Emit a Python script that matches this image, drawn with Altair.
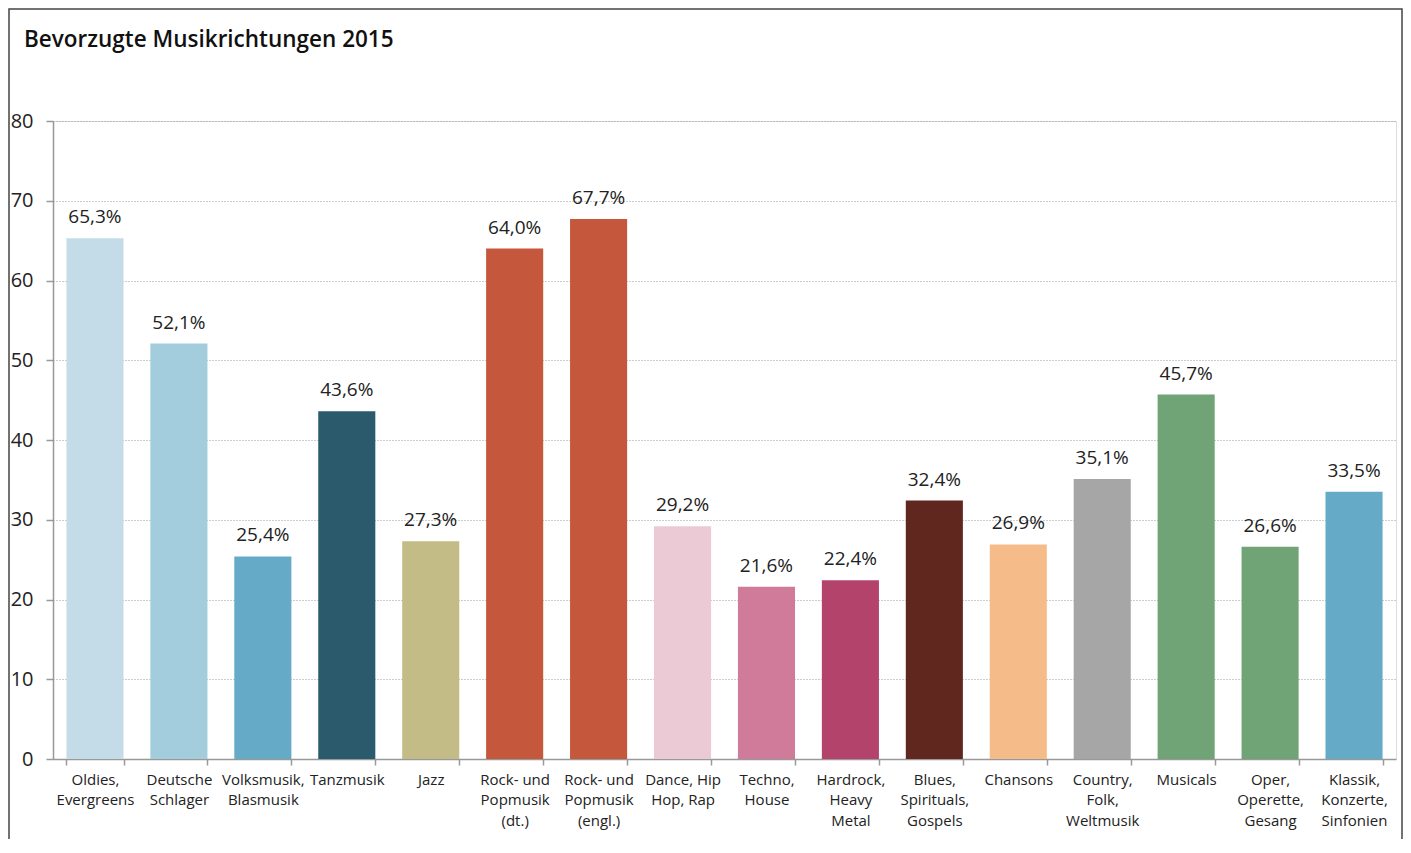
import altair as alt
import pandas as pd

categories = [
    "Oldies,|Evergreens", "Deutsche|Schlager", "Volksmusik,|Blasmusik", "Tanzmusik",
    "Jazz", "Rock- und|Popmusik|(dt.)", "Rock- und|Popmusik|(engl.)", "Dance, Hip|Hop, Rap",
    "Techno,|House", "Hardrock,|Heavy|Metal", "Blues,|Spirituals,|Gospels", "Chansons",
    "Country,|Folk,|Weltmusik", "Musicals", "Oper,|Operette,|Gesang", "Klassik,|Konzerte,|Sinfonien",
]
values = [65.3, 52.1, 25.4, 43.6, 27.3, 64.0, 67.7, 29.2, 21.6, 22.4, 32.4, 26.9, 35.1, 45.7, 26.6, 33.5]
colors = [
    "#c3dce8", "#a3cddd", "#65abc7", "#2a5a6b", "#c4bc86", "#c4573c", "#c4573c", "#ebcad6",
    "#d07b9a", "#b4436c", "#60271f", "#f5bc8a", "#a6a6a6", "#70a476", "#70a476", "#65abc7",
]

df = pd.DataFrame({"cat": categories, "val": values, "color": colors})
df["label"] = df["val"].map(lambda v: f"{v:.1f}".replace(".", ",") + "%")

FONT = "Open Sans"
W, H = 1343, 638

x_enc = alt.X(
    "cat:N", sort=None, title=None,
    scale=alt.Scale(paddingInner=0.32, paddingOuter=0.16),
    axis=alt.Axis(
        labelAngle=0, labelExpr="split(datum.label, '|')", labelFontSize=15,
        labelLineHeight=20.5, labelFont=FONT, labelColor="#222", labelPadding=7,
        tickBand="extent", tickSize=6, tickColor="#999", domainColor="#999",
        domainWidth=1.5, tickWidth=1.5, labelBaseline="top",
    ),
)
y_enc = alt.Y(
    "val:Q", title=None,
    scale=alt.Scale(domain=[0, 80], nice=False),
    axis=alt.Axis(
        values=list(range(0, 90, 10)), labelFontSize=20, labelFont=FONT, labelColor="#222",
        tickSize=7, tickColor="#999", domainColor="#999", domainWidth=1.5, tickWidth=1.5,
        labelPadding=13, grid=True, gridColor="#999", gridDash=[1, 2], gridWidth=1,
    ),
)

bars = alt.Chart(df).mark_bar().encode(
    x=x_enc, y=y_enc, color=alt.Color("color:N", scale=None)
)
labels = alt.Chart(df).mark_text(
    baseline="bottom", dy=-11, fontSize=19, font=FONT, color="#222"
).encode(x=alt.X("cat:N", sort=None), y="val:Q", text="label:N")

frame = alt.Chart(pd.DataFrame({"a": [0]})).mark_rect(
    fill=None, stroke="#444", strokeWidth=1.5
).encode(
    x=alt.value(-44), x2=alt.value(1349), y=alt.value(-112), y2=alt.value(900)
)

chart = alt.layer(frame, bars, labels).properties(
    width=W, height=H,
    title=alt.TitleParams(
        "Bevorzugte Musikrichtungen 2015", anchor="start", frame="group",
        fontSize=22.5, font=FONT, fontWeight=600, color="#111", dx=-29, offset=0,
        dy=61, baseline="alphabetic",
    ),
    padding={"left": 45, "top": 113, "right": 7, "bottom": 80},
    autosize=alt.AutoSizeParams(type="none"),
).configure_view(stroke=None).configure(background="white")

chart.save("out.html", embed_options={"renderer": "svg", "actions": False})
